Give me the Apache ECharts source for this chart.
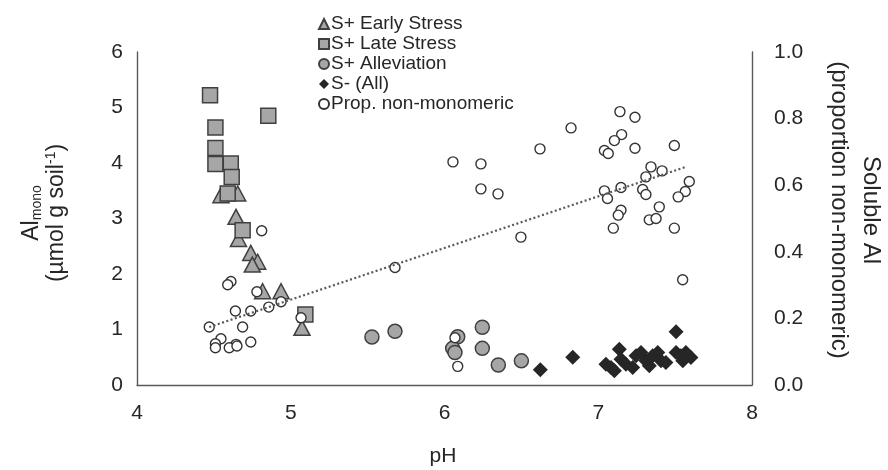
<!DOCTYPE html>
<html>
<head>
<meta charset="utf-8">
<script src="https://cdn.jsdelivr.net/npm/echarts@6/dist/echarts.min.js"></script>
<style>html,body{margin:0;padding:0;background:#fff}#c{width:888px;height:470px}</style>
</head>
<body>
<div id="c"></div>
<script>
// ---- data ----
const seriesNames = ['S+ Early Stress', 'S+ Late Stress', 'S+ Alleviation', 'S- (All)', 'Prop. non-monomeric'];
const xTicks = [4, 5, 6, 7, 8];
const yLeftTicks = [0, 1, 2, 3, 4, 5, 6];
const yRightTicks = [0.0, 0.2, 0.4, 0.6, 0.8, 1.0];

const earlyX = [4.546, 4.655, 4.644, 4.66, 4.74, 4.785, 4.75, 4.817, 4.937, 5.073];
const earlyY = [3.42, 3.45, 3.03, 2.63, 2.38, 2.22, 2.17, 1.69, 1.69, 1.03];

const lateX = [4.475, 4.854, 4.51, 4.51, 4.51, 4.61, 4.616, 4.59, 4.687, 5.095];
const lateY = [5.22, 4.85, 4.64, 4.27, 3.98, 3.99, 3.75, 3.45, 2.79, 1.27];

const allevX = [5.528, 5.678, 6.086, 6.053, 6.068, 6.246, 6.246, 6.35, 6.50];
const allevY = [0.865, 0.967, 0.87, 0.66, 0.585, 1.04, 0.66, 0.36, 0.435];

const sMinusX = [6.623, 6.834, 7.506, 7.05, 7.083, 7.105, 7.137, 7.148, 7.18, 7.224, 7.246, 7.278, 7.31, 7.332, 7.354, 7.387, 7.408, 7.44, 7.506, 7.538, 7.57, 7.603, 7.55];
const sMinusY = [0.275, 0.50, 0.96, 0.376, 0.317, 0.257, 0.645, 0.466, 0.376, 0.317, 0.525, 0.585, 0.435, 0.346, 0.525, 0.585, 0.435, 0.406, 0.585, 0.525, 0.585, 0.496, 0.435];

const propX = [4.811, 4.611, 4.59, 4.78, 4.937, 4.857, 4.74, 4.64, 5.067, 4.47, 4.687, 4.546, 4.51, 4.51, 4.74, 4.644, 4.60, 4.65,
  5.678, 6.068, 6.086, 6.055, 6.237, 6.237, 6.348, 6.497, 6.621, 6.823,
  7.141, 7.239, 7.152, 7.105, 7.04, 7.065, 7.239, 7.495, 7.343, 7.415, 7.31, 7.592, 7.566, 7.52, 7.148, 7.04, 7.06, 7.289, 7.31, 7.397, 7.148, 7.13, 7.332, 7.376, 7.098, 7.495, 7.549];
const propY = [0.463, 0.311, 0.301, 0.28, 0.25, 0.234, 0.222, 0.222, 0.202, 0.174, 0.174, 0.139, 0.124, 0.112, 0.129, 0.122, 0.112, 0.117,
  0.353, 0.142, 0.056, 0.67, 0.664, 0.589, 0.574, 0.444, 0.709, 0.772,
  0.821, 0.804, 0.752, 0.734, 0.704, 0.695, 0.711, 0.719, 0.655, 0.643, 0.625, 0.611, 0.581, 0.565, 0.593, 0.583, 0.56, 0.587, 0.572, 0.535, 0.525, 0.51, 0.496, 0.50, 0.471, 0.471, 0.316];

const trendX = [4.47, 7.57];
const trendY = [0.174, 0.655];

// ---- chart ----
const zip = (a, b) => a.map((v, i) => [v, b[i]]);
const FONT = '"Liberation Sans", Arial, sans-serif';
const TXT = '#262626';
const AX = '#595959';
const chart = echarts.init(document.getElementById('c'), null, {renderer: 'canvas'});

chart.setOption({
  animation: false,
  backgroundColor: '#fff',
  textStyle: {fontFamily: FONT},
  grid: {left: 137, right: 136, top: 52, bottom: 85, containLabel: false},
  legend: {
    orient: 'vertical', left: 313, top: 9,
    itemWidth: 10, itemHeight: 10, itemGap: 0,
    textStyle: {fontFamily: FONT, fontSize: 19, color: TXT, lineHeight: 20, padding: [0, 0, 0, -3]},
    data: seriesNames.map(n => ({name: n}))
  },
  xAxis: {
    type: 'value', min: xTicks[0], max: xTicks[xTicks.length - 1], interval: 1,
    axisLine: {show: true, lineStyle: {color: AX, width: 1.4}},
    axisTick: {show: false}, splitLine: {show: false},
    axisLabel: {fontSize: 21, color: TXT, margin: 18, fontFamily: FONT}
  },
  yAxis: [{
    type: 'value', min: yLeftTicks[0], max: yLeftTicks[yLeftTicks.length - 1], interval: 1,
    axisLine: {show: true, lineStyle: {color: AX, width: 1.4}},
    axisTick: {show: false}, splitLine: {show: false},
    axisLabel: {fontSize: 21, color: TXT, margin: 14, fontFamily: FONT}
  }, {
    type: 'value', min: yRightTicks[0], max: yRightTicks[yRightTicks.length - 1], interval: 0.2,
    position: 'right',
    axisLine: {show: true, lineStyle: {color: AX, width: 1.4}},
    axisTick: {show: false}, splitLine: {show: false},
    axisLabel: {fontSize: 21, color: TXT, margin: 22, fontFamily: FONT, formatter: v => v.toFixed(1)}
  }],
  graphic: [
    {
      type: 'text', x: 443, y: 456, style: {text: 'pH', font: '21px ' + FONT, fill: TXT, textAlign: 'center', textVerticalAlign: 'middle'}
    },
    {
      type: 'text', x: 44, y: 213, rotation: Math.PI / 2,
      style: {
        text: '{a|Al}{s|mono}\n{a|(µmol g soil}{p|-1}{a|)}',
        textAlign: 'center', textVerticalAlign: 'middle', fill: TXT,
        rich: {
          a: {fontSize: 23, fontFamily: FONT, fill: TXT, lineHeight: 25, verticalAlign: 'middle'},
          s: {fontSize: 14, fontFamily: FONT, fill: TXT, lineHeight: 25, verticalAlign: 'bottom'},
          p: {fontSize: 14, fontFamily: FONT, fill: TXT, lineHeight: 25, verticalAlign: 'top'}
        }
      }
    },
    {
      type: 'text', x: 855, y: 210, rotation: -Math.PI / 2,
      style: {
        text: 'Soluble Al\n(proportion non-monomeric)',
        textAlign: 'center', textVerticalAlign: 'middle', fill: TXT,
        font: '24px ' + FONT, lineHeight: 32
      }
    }
  ],
  series: [
    {
      name: seriesNames[0], type: 'scatter', yAxisIndex: 0, data: zip(earlyX, earlyY),
      symbol: 'triangle', symbolSize: [16, 15],
      itemStyle: {color: '#a6a6a6', borderColor: '#404040', borderWidth: 1.5, opacity: 1}
    },
    {
      name: seriesNames[1], type: 'scatter', yAxisIndex: 0, data: zip(lateX, lateY),
      symbol: 'rect', symbolSize: 15,
      itemStyle: {color: '#a6a6a6', borderColor: '#404040', borderWidth: 1.5, opacity: 1}
    },
    {
      name: seriesNames[2], type: 'scatter', yAxisIndex: 0, data: zip(allevX, allevY),
      symbol: 'circle', symbolSize: 14,
      itemStyle: {color: '#a6a6a6', borderColor: '#404040', borderWidth: 1.5, opacity: 1}
    },
    {
      name: seriesNames[3], type: 'scatter', yAxisIndex: 0, data: zip(sMinusX, sMinusY),
      symbol: 'diamond', symbolSize: 15,
      itemStyle: {color: '#262626', opacity: 1}
    },
    {
      name: seriesNames[4], type: 'scatter', yAxisIndex: 1, data: zip(propX, propY),
      symbol: 'circle', symbolSize: 10,
      itemStyle: {color: '#ffffff', borderColor: '#333333', borderWidth: 1.4, opacity: 1}
    },
    {
      name: 'trend', type: 'line', yAxisIndex: 1, data: zip(trendX, trendY),
      symbol: 'none', silent: true, z: 5,
      lineStyle: {color: '#595959', width: 2.2, type: [2, 2.5]}
    }
  ]
});
</script>
</body>
</html>
